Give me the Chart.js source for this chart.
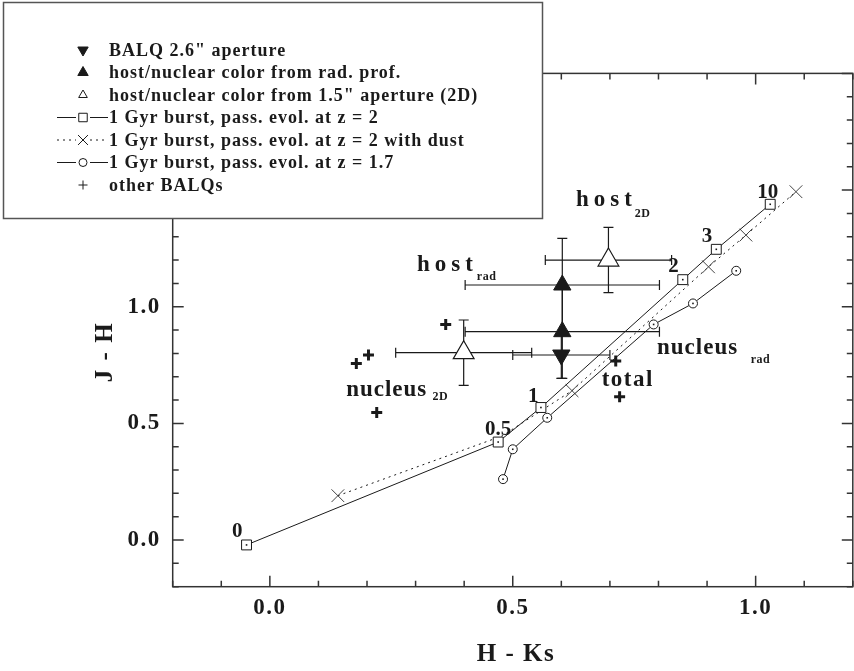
<!DOCTYPE html>
<html>
<head>
<meta charset="utf-8">
<script src="https://cdn.jsdelivr.net/npm/chart.js@4.4.1/dist/chart.umd.min.js"></script>
<style>
html, body { margin: 0; padding: 0; background: #fff; overflow: hidden; }
#cadre { width: 854px; height: 671px; overflow: hidden; }
canvas { display: block; }
</style>
</head>
<body>
<div id="cadre"><canvas id="mon-canvas" width="866" height="671"></canvas></div>
<script>
//les données
var ages = ['0', '0.5', '1', '2', '3', '10'];
var burstZ2X = [-0.048, 0.470, 0.558, 0.850, 0.919, 1.030];
var burstZ2Y = [-0.021, 0.420, 0.568, 1.116, 1.246, 1.439];
var dustX = [0.140, 0.478, 0.622, 0.903, 0.980, 1.083];
var dustY = [0.190, 0.446, 0.640, 1.171, 1.307, 1.493];
var burstZ17X = [0.480, 0.500, 0.571, 0.790, 0.871, 0.960];
var burstZ17Y = [0.261, 0.389, 0.524, 0.924, 1.014, 1.154];
var balqX = [0.600], balqY = [0.793], balqErrX = [0.10], balqErrY = [0.10];
var radX = [0.602, 0.602], radY = [1.093, 0.893], radErrX = [0.20, 0.20], radErrY = [0.20, 0.20];
var ap2dX = [0.697, 0.399], ap2dY = [1.200, 0.803], ap2dErrX = [0.130, 0.140], ap2dErrY = [0.140, 0.140];
var autresX = [0.362, 0.203, 0.178, 0.220, 0.712, 0.720];
var autresY = [0.924, 0.793, 0.757, 0.547, 0.767, 0.614];
var xLabels = ['0.0', '0.5', '1.0'];
var yLabels = ['0.0', '0.5', '1.0', '1.5', '2.0'];

//positions des textes (coordonnées du graphique)
var posAges = [[-0.067, 0.012], [0.470, 0.450], [0.542, 0.593], [0.831, 1.150], [0.900, 1.279], [1.025, 1.465]];
var notes = [
    {texte: 'host', sub: '2D', x: 0.630, y: 1.433, sx: 0.751, sy: 1.386, esp: 5},
    {texte: 'host', sub: 'rad', x: 0.303, y: 1.154, sx: 0.426, sy: 1.114, esp: 5},
    {texte: 'nucleus', sub: 'rad', x: 0.797, y: 0.796, sx: 0.990, sy: 0.757, esp: 1},
    {texte: 'nucleus', sub: '2D', x: 0.157, y: 0.619, sx: 0.335, sy: 0.600, esp: 1},
    {texte: 'total', sub: '', x: 0.683, y: 0.660, esp: 1.5}
];

var encre = '#1a1a1a';
var police = 'Liberation Serif';

function points (xs, ys) {
    var res = [];
    for (var i = 0; i < xs.length; i++) {
        res.push({x: xs[i], y: ys[i]});
    }
    return res;
}

//texte de graduation arrondi (évite le "-0.0")
function texteTick (v) {
    var r = Math.round(v * 10) / 10;
    if (Math.abs(r) < 1e-9) r = 0;
    return r.toFixed(1);
}

function etiquette (v, liste) {
    var t = texteTick(v);
    return liste.indexOf(t) != -1 ? t : '';
}

//barres d'erreur
function barres (chart, xs, ys, ex, ey) {
    var ctx = chart.ctx, sx = chart.scales.x, sy = chart.scales.y;
    var c = 5;
    ctx.save();
    ctx.strokeStyle = encre;
    ctx.lineWidth = 1.2;
    for (var i = 0; i < xs.length; i++) {
        var x0 = sx.getPixelForValue(xs[i] - ex[i]), x1 = sx.getPixelForValue(xs[i] + ex[i]);
        var y0 = sy.getPixelForValue(ys[i] - ey[i]), y1 = sy.getPixelForValue(ys[i] + ey[i]);
        var px = sx.getPixelForValue(xs[i]), py = sy.getPixelForValue(ys[i]);
        ctx.beginPath();
        ctx.moveTo(x0, py); ctx.lineTo(x1, py);
        ctx.moveTo(x0, py - c); ctx.lineTo(x0, py + c);
        ctx.moveTo(x1, py - c); ctx.lineTo(x1, py + c);
        ctx.moveTo(px, y0); ctx.lineTo(px, y1);
        ctx.moveTo(px - c, y0); ctx.lineTo(px + c, y0);
        ctx.moveTo(px - c, y1); ctx.lineTo(px + c, y1);
        ctx.stroke();
    }
    ctx.restore();
}

var decor = {
    id: 'decor',
    beforeDraw: function (chart) {
        chart.ctx.letterSpacing = '1.5px';
    },
    beforeDatasetsDraw: function (chart) {
        barres(chart, ap2dX, ap2dY, ap2dErrX, ap2dErrY);
        barres(chart, radX, radY, radErrX, radErrY);
        barres(chart, balqX, balqY, balqErrX, balqErrY);
    },
    afterDatasetsDraw: function (chart) {
        var ctx = chart.ctx, sx = chart.scales.x, sy = chart.scales.y, a = chart.chartArea;
        ctx.save();
        //points au centre des carrés et cercles
        ctx.fillStyle = encre;
        [4, 5].forEach(function (k) {
            chart.getDatasetMeta(k).data.forEach(function (p) {
                ctx.fillRect(p.x - 0.8, p.y - 0.8, 1.6, 1.6);
            });
        });
        //cadre
        ctx.strokeStyle = '#333';
        ctx.lineWidth = 1.5;
        ctx.strokeRect(a.left, a.top, a.right - a.left, a.bottom - a.top);
        //graduations vers l'intérieur
        ctx.beginPath();
        for (var i = 0; i <= 14; i++) {
            var v = -0.2 + i * 0.1;
            var l = Math.abs(v * 2 - Math.round(v * 2)) < 1e-6 ? 11 : 6;
            var px = sx.getPixelForValue(v);
            ctx.moveTo(px, a.bottom); ctx.lineTo(px, a.bottom - l);
            ctx.moveTo(px, a.top); ctx.lineTo(px, a.top + l);
        }
        for (var j = 0; j <= 22; j++) {
            var w = -0.2 + j * 0.1;
            var m = Math.abs(w * 2 - Math.round(w * 2)) < 1e-6 ? 11 : 6;
            var py = sy.getPixelForValue(w);
            ctx.moveTo(a.left, py); ctx.lineTo(a.left + m, py);
            ctx.moveTo(a.right, py); ctx.lineTo(a.right - m, py);
        }
        ctx.stroke();
        //âges des modèles
        ctx.fillStyle = encre;
        ctx.textAlign = 'center';
        ctx.textBaseline = 'alphabetic';
        ctx.font = 'bold 21px "' + police + '"';
        ctx.letterSpacing = '0px';
        for (var k = 0; k < ages.length; k++) {
            ctx.fillText(ages[k], sx.getPixelForValue(posAges[k][0]), sy.getPixelForValue(posAges[k][1]));
        }
        //annotations
        ctx.textAlign = 'left';
        notes.forEach(function (n) {
            ctx.font = 'bold 23px "' + police + '"';
            ctx.letterSpacing = n.esp + 'px';
            ctx.fillText(n.texte, sx.getPixelForValue(n.x), sy.getPixelForValue(n.y));
            if (n.sub) {
                ctx.font = 'bold 12px "' + police + '"';
                ctx.letterSpacing = '0.5px';
                ctx.fillText(n.sub, sx.getPixelForValue(n.sx), sy.getPixelForValue(n.sy));
            }
        });
        //titres des axes
        ctx.font = 'bold 25px "' + police + '"';
        ctx.letterSpacing = '1.5px';
        ctx.textAlign = 'center';
        ctx.textBaseline = 'middle';
        ctx.fillText('H - Ks', 516, 655);
        ctx.translate(106, 352);
        ctx.rotate(-Math.PI / 2);
        ctx.fillText('J - H', 0, 0);
        ctx.restore();
    },
    afterDraw: function (chart) {
        //légende
        var ctx = chart.ctx;
        ctx.save();
        ctx.fillStyle = '#fff';
        ctx.fillRect(3, 2, 540, 217);
        ctx.strokeStyle = '#555';
        ctx.lineWidth = 1.5;
        ctx.strokeRect(3.5, 2.5, 539, 216);
        var items = [
            {ds: 0, style: 'triangle', r: 6, rot: 180, fond: encre},
            {ds: 1, style: 'triangle', r: 6, rot: 0, fond: encre},
            {ds: 2, style: 'triangle', r: 5, rot: 0, fond: '#fff'},
            {ds: 4, style: 'rect', r: 6, rot: 0, fond: '#fff', tiret: []},
            {ds: 6, style: 'crossRot', r: 7, rot: 0, fond: '#fff', tiret: [2, 4]},
            {ds: 5, style: 'circle', r: 4, rot: 0, fond: '#fff', tiret: []},
            {ds: 3, style: 'cross', r: 4.5, rot: 0, fond: encre}
        ];
        ctx.font = 'bold 18px "' + police + '"';
        ctx.letterSpacing = '1px';
        ctx.textBaseline = 'middle';
        ctx.textAlign = 'left';
        items.forEach(function (it, i) {
            var y = 50 + i * 22.5;
            ctx.strokeStyle = encre;
            ctx.lineWidth = 1;
            if (it.tiret) {
                ctx.setLineDash(it.tiret);
                ctx.beginPath();
                ctx.moveTo(57, y); ctx.lineTo(76, y);
                ctx.moveTo(90, y); ctx.lineTo(108, y);
                ctx.stroke();
                ctx.setLineDash([]);
            }
            ctx.fillStyle = it.fond;
            Chart.helpers.drawPoint(ctx, {pointStyle: it.style, radius: it.r, rotation: it.rot, borderWidth: 1}, 83, y);
            ctx.fillStyle = encre;
            ctx.fillText(chart.data.datasets[it.ds].label, 109, y + 1);
        });
        ctx.restore();
    }
};

var ctx = document.getElementById('mon-canvas').getContext('2d');
var chart = new Chart(ctx, {
    type: 'scatter',
    data: {
        datasets: [{
            label: 'BALQ 2.6" aperture',
            data: points(balqX, balqY),
            pointStyle: 'triangle', pointRotation: 180, pointRadius: 10,
            pointBackgroundColor: encre, pointBorderColor: encre, pointBorderWidth: 1
        }, {
            label: 'host/nuclear color from rad. prof.',
            data: points(radX, radY),
            pointStyle: 'triangle', pointRadius: 10,
            pointBackgroundColor: encre, pointBorderColor: encre, pointBorderWidth: 1
        }, {
            label: 'host/nuclear color from 1.5" aperture (2D)',
            data: points(ap2dX, ap2dY),
            pointStyle: 'triangle', pointRadius: 12,
            pointBackgroundColor: '#fff', pointBorderColor: encre, pointBorderWidth: 1.2
        }, {
            label: 'other BALQs',
            data: points(autresX, autresY),
            pointStyle: 'cross', pointRadius: 5.5,
            pointBorderColor: encre, pointBorderWidth: 3
        }, {
            label: '1 Gyr burst, pass. evol. at z = 2',
            data: points(burstZ2X, burstZ2Y),
            showLine: true, borderColor: encre, borderWidth: 1,
            pointStyle: 'rect', pointRadius: 7,
            pointBackgroundColor: '#fff', pointBorderColor: encre, pointBorderWidth: 1
        }, {
            label: '1 Gyr burst, pass. evol. at z = 1.7',
            data: points(burstZ17X, burstZ17Y),
            showLine: true, borderColor: encre, borderWidth: 1,
            pointStyle: 'circle', pointRadius: 4.5,
            pointBackgroundColor: '#fff', pointBorderColor: encre, pointBorderWidth: 1
        }, {
            label: '1 Gyr burst, pass. evol. at z = 2 with dust',
            data: points(dustX, dustY),
            showLine: true, borderColor: encre, borderWidth: 1, borderDash: [2, 4],
            pointStyle: 'crossRot', pointRadius: [9, 0, 9, 9, 9, 9],
            pointBorderColor: '#444', pointBorderWidth: 1
        }]
    },
    options: {
        responsive: false,
        animation: false,
        events: [],
        layout: {padding: {left: 0, top: 73.4, right: 2.6, bottom: 0}},
        plugins: {legend: {display: false}, tooltip: {enabled: false}},
        scales: {
            x: {
                type: 'linear', min: -0.2, max: 1.2,
                grid: {display: false, drawTicks: false},
                border: {display: false},
                ticks: {
                    stepSize: 0.1, autoSkip: false, maxRotation: 0, padding: 8, color: encre,
                    font: {family: police, size: 23, weight: 'bold'},
                    callback: function (v) { return etiquette(v, xLabels); }
                },
                afterFit: function (s) { s.height = 84.3; }
            },
            y: {
                type: 'linear', min: -0.2, max: 2.0,
                grid: {display: false, drawTicks: false},
                border: {display: false},
                ticks: {
                    stepSize: 0.1, autoSkip: false, padding: 12, color: encre,
                    font: {family: police, size: 23, weight: 'bold'},
                    callback: function (v) { return etiquette(v, yLabels); }
                },
                afterFit: function (s) { s.width = 172.7; }
            }
        }
    },
    plugins: [decor]
});
</script>
</body>
</html>
